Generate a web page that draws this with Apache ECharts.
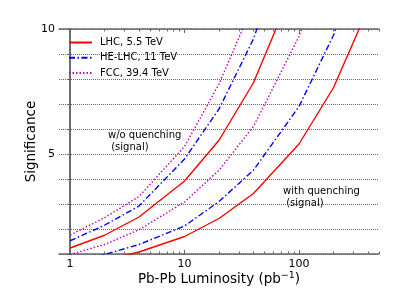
<!DOCTYPE html>
<html>
<head>
<meta charset="utf-8">
<script src="https://cdn.jsdelivr.net/npm/echarts@6/dist/echarts.min.js"></script>
<style>html,body{margin:0;padding:0;background:#fff}#c{width:399px;height:299px}</style>
</head>
<body>
<div id="c"></div>
<script>
// luminosity samples (pb^-1)
const luminosity = [1, 2, 4, 10, 20, 40, 100, 200, 400];
// without quenching (signal)
const lhcNoQ = [1.24, 1.75, 2.48, 3.92, 5.55, 7.85, 12.2];
const heNoQ  = [1.53, 2.15, 2.92, 4.8, 6.8, 9.6, 15.0];
const fccNoQ = [1.76, 2.45, 3.3, 5.3, 7.8, 11.0];
// with quenching (signal)
const lhcQ = [0.54, 0.76, 1.08, 1.70, 2.42, 3.42, 5.4, 7.65, 10.8];
const heQ  = [0.69, 0.98, 1.38, 2.12, 3.1, 4.35, 6.9, 9.75, 13.8];
const fccQ = [0.98, 1.38, 1.97, 3.08, 4.35, 6.1, 9.7, 13.7];

const names = ['LHC, 5.5 TeV', 'HE-LHC, 11 TeV', 'FCC, 39.4 TeV'];
const xMajor = [1, 10, 100];
const xMinor = [2,3,4,5,6,7,8,9,20,30,40,50,60,70,80,90,200,300,400,500];
const yLabels = [5, 10];
const xMin = 0.8, xMax = 500;

const lg = v => Math.log10(v);
function pts(vals){ return vals.map((v,i)=>[lg(luminosity[i]), v]); }

const FONT = 'DejaVu Sans';
const styles = [
  {color:'#ff0000', type:'solid'},
  {color:'#0000ff', type:[6,2.5,1.5,2.5]},
  {color:'#bf00bf', type:[1.5,2]}
];
const frame = '#666';

function xAx(pos, ticks, len, showLine, showLabel){
  return {
    type:'value', position:pos, min:lg(xMin), max:lg(xMax),
    axisLine:{show:showLine, lineStyle:{color:frame, width:1.5}},
    axisTick:{show:true, inside:true, length:len, customValues:ticks.map(lg), lineStyle:{color:frame, width:1}},
    axisLabel:{show:showLabel, customValues:xMajor.map(lg), margin:5,
      formatter:v=>String(Math.round(Math.pow(10,v))), color:'#000', fontFamily:FONT, fontSize:11},
    splitLine:{show:false}
  };
}

const option = {
  animation:false,
  grid:{left:59, right:20, top:29, bottom:45, outerBoundsMode:'none'},
  legend:{
    orient:'vertical', left:68, top:37.5, padding:0, itemWidth:23, itemHeight:10, itemGap:5.3,
    data:names, selectedMode:false,
    itemStyle:{opacity:0},
    textStyle:{fontFamily:FONT, fontSize:10, color:'#000', padding:[0,0,0,3]}
  },
  xAxis:[
    Object.assign(xAx('bottom', xMajor, 4, true, true), {
      name:'Pb-Pb Luminosity (pb{sup|−1})', nameLocation:'middle', nameGap:17, nameMoveOverlap:false,
      nameTextStyle:{fontFamily:FONT, fontSize:13.5, color:'#000',
        rich:{sup:{fontFamily:FONT, fontSize:9.5, color:'#000', verticalAlign:'bottom', padding:[0,0,6,0]}}}
    }),
    xAx('bottom', xMinor, 2.5, false, false),
    xAx('top', xMajor, 4, true, false),
    xAx('top', xMinor, 2.5, false, false)
  ],
  yAxis:[
    {type:'value', position:'left', min:1, max:10, interval:1,
      name:'Significance', nameLocation:'middle', nameGap:21, nameMoveOverlap:false,
      nameTextStyle:{fontFamily:FONT, fontSize:13.5, color:'#000'},
      axisLine:{show:true, lineStyle:{color:frame, width:1.5}},
      axisTick:{show:true, inside:true, length:2, lineStyle:{color:frame}},
      axisLabel:{margin:4, color:'#000', fontFamily:FONT, fontSize:11,
        formatter:v=>(yLabels.indexOf(v) >= 0 ? String(v) : '')},
      splitLine:{show:true, lineStyle:{color:'#444', width:0.8, type:[1,1]}}
    },
    {type:'value', position:'right', min:1, max:10, interval:1,
      axisLine:{show:true, lineStyle:{color:frame, width:1.5}},
      axisTick:{show:true, inside:true, length:3, lineStyle:{color:frame}},
      axisLabel:{show:false}, splitLine:{show:false}
    },
    {type:'value', position:'left', min:1, max:10,
      axisLine:{show:false},
      axisTick:{show:true, inside:false, length:3, customValues:yLabels, lineStyle:{color:frame}},
      axisLabel:{show:false}, splitLine:{show:false}
    }
  ],
  graphic:[
    {type:'text', left:108, top:129, style:{text:'w/o quenching\n (signal)', font:'10px "DejaVu Sans"', fill:'#000', lineHeight:12}},
    {type:'text', left:283, top:185, style:{text:'with quenching\n (signal)', font:'10px "DejaVu Sans"', fill:'#000', lineHeight:12}}
  ],
  series:[]
};

const groups = [[lhcNoQ, heNoQ, fccNoQ], [lhcQ, heQ, fccQ]];
groups.forEach(g => g.forEach((vals, k) => {
  option.series.push({
    type:'line', name:names[k], data:pts(vals), xAxisIndex:0, yAxisIndex:0,
    showSymbol:false, symbol:'none', clip:true, silent:true,
    lineStyle:{color:styles[k].color, width:1.4, type:styles[k].type},
    itemStyle:{color:styles[k].color}
  });
}));

const chart = echarts.init(document.getElementById('c'), null, {renderer:'canvas'});
chart.setOption(option);
</script>
</body>
</html>
